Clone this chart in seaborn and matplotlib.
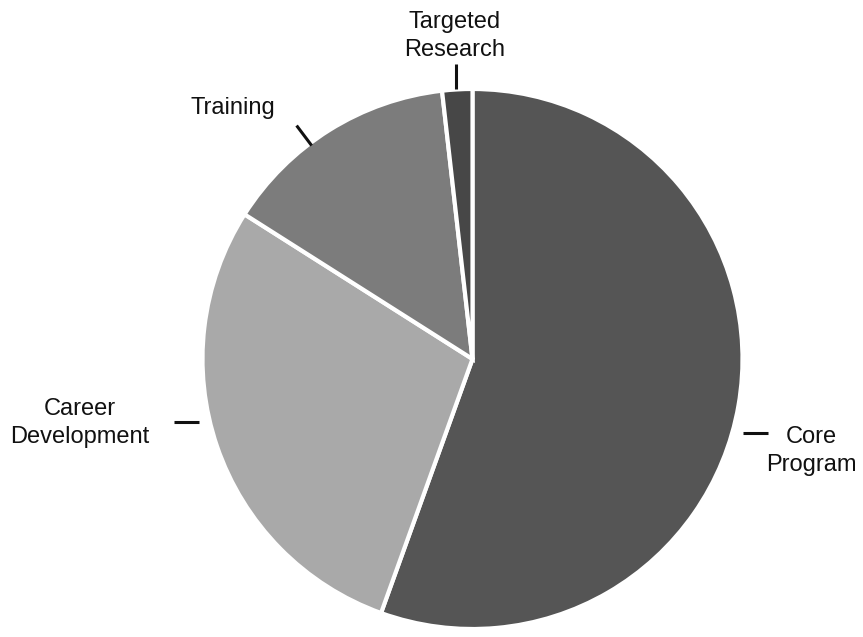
import matplotlib.pyplot as plt
import seaborn as sns
import numpy as np

# Budget shares (percent)
categories = ["Core Program", "Career Development", "Training", "Targeted Research"]
shares = [55.5, 28.5, 14.2, 1.8]
label_text = ["Core\nProgram", "Career\nDevelopment", "Training", "Targeted\nResearch"]
greys = ["#555555", "#a9a9a9", "#7c7c7c", "#474747"]

# label layout (pixel positions in the 863x637 canvas) and leader ticks:
# (angle on the pie, start radius, direction of the tick)
label_px = [(811, 451), (80, 423), (233, 108), (455, 36)]
ticks = [(-15.3, 1.037, 0.0), (193.0, 1.04, 180.0), (127.0, 0.99, 127.0), (93.4, 1.0, 90.0)]

sns.set_style("white")
plt.rcParams["font.family"] = ["Liberation Sans", "DejaVu Sans"]

W, H = 863, 637
cx, cy, R = 472.5, 359, 270
fig = plt.figure(figsize=(W / 100, H / 100), dpi=100)
ax = fig.add_axes([0, 0, 1, 1])

ax.pie(shares, colors=greys, startangle=90, counterclock=False, radius=1,
       wedgeprops=dict(edgecolor="white", linewidth=3))

for txt, (px, py) in zip(label_text, label_px):
    ax.text((px - cx) / R, (cy - py) / R, txt, ha="center", va="center",
            fontsize=17, color="#111111", linespacing=1.32)

tick_len = 25 / R
for a, r0, d in ticks:
    t, u = np.deg2rad(a), np.deg2rad(d)
    x0, y0 = r0 * np.cos(t), r0 * np.sin(t)
    ax.plot([x0, x0 + tick_len * np.cos(u)], [y0, y0 + tick_len * np.sin(u)],
            color="#111111", lw=2.2, solid_capstyle="butt")

ax.set_xlim(-cx / R, (W - cx) / R)
ax.set_ylim(-(H - cy) / R, cy / R)
ax.set_aspect("equal")
ax.axis("off")

fig.savefig("out.png", dpi=100, facecolor="white")
